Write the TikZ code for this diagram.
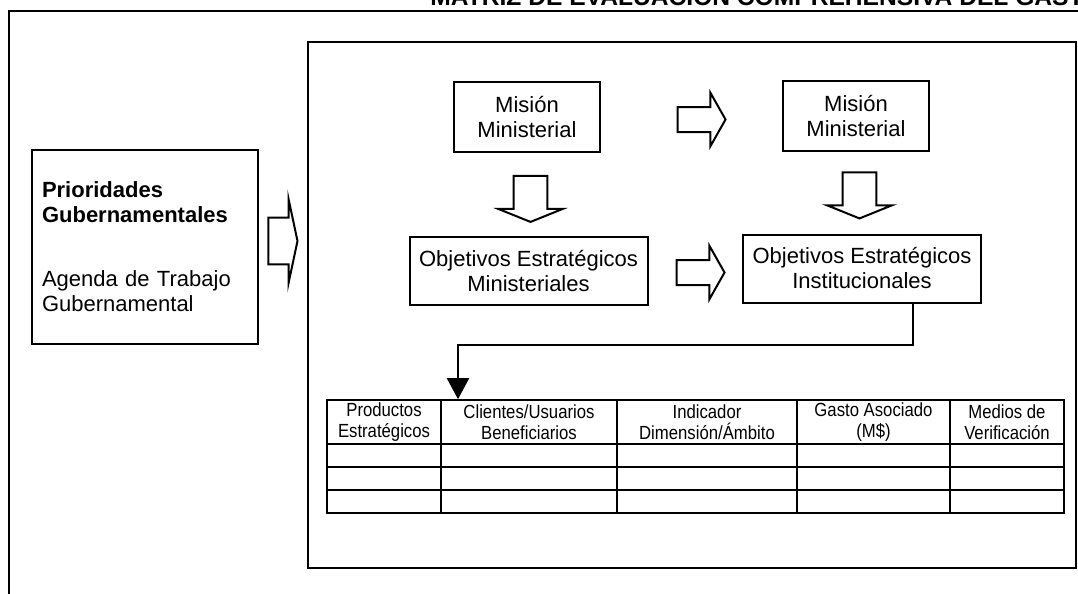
\documentclass[tikz,border=0pt]{standalone}
\usepackage{fontspec}
\setmainfont{Liberation Sans}
\newfontfamily\narrowfont[FakeStretch=0.88]{Liberation Sans}
\usetikzlibrary{positioning,shapes.arrows,arrows.meta}

\begin{document}
\begin{tikzpicture}[x=0.5pt, y=-0.5pt, every node/.style={font=\fontsize{11}{12.5}\selectfont}]
  \tikzset{
    caja/.style={draw, rectangle, line width=1pt, minimum width=73pt, minimum height=35pt, align=center, inner sep=2pt},
    objetivo/.style={caja, minimum width=119pt, minimum height=34pt},
    flecha/.style={draw, single arrow, line width=1pt, fill=white},
    fder/.style={flecha, inner xsep=0pt, inner ysep=5.75pt, minimum height=24pt, minimum width=26.5pt, single arrow tip angle=121},
    fbajo/.style={flecha, shape border rotate=270, inner sep=7.25pt, minimum height=23pt, minimum width=32.5pt, single arrow tip angle=136},
    celda/.style={font=\narrowfont\fontsize{9.5}{10.5}\selectfont, align=center, inner sep=0pt},
    linea/.style={line width=0.8pt}
  }
  \useasboundingbox (0,0) rectangle (1078,594);
  \clip (0,0) rectangle (1078,594);

  % titulo y marco exterior
  \node[anchor=base west, inner sep=0pt, font=\bfseries\fontsize{12.3}{14}\selectfont] (titulo) at (430,5) {MATRIZ DE EVALUACIÓN COMPREHENSIVA DEL GASTO};
  \draw[line width=0.6pt] (9,594) -- (9,11) -- (1078,11);

  \node[draw, line width=1pt, minimum width=384pt, minimum height=263pt] (panel) at (692,305) {};

  \node[caja, text width=103pt, inner sep=5pt, minimum height=97pt, align=left] (prioridades) at (145,247) {\textbf{Prioridades}\\\textbf{Gubernamentales}\\[19.5pt]Agenda de Trabajo\\Gubernamental};
  \node[flecha, inner xsep=0pt, inner ysep=8.5pt, minimum height=14.5pt, minimum width=42pt, single arrow tip angle=156] (fprio) at (280.5,241) {};

  \node[caja] (mision1) at (527,117) {Misión\\Ministerial};
  \node[caja] (mision2) at (856,116) {Misión\\Ministerial};
  \node[objetivo] (objmin) at (528.5,271) {Objetivos Estratégicos\\Ministeriales};
  \node[objetivo] (objinst) at (862,268.5) {Objetivos Estratégicos\\Institucionales};

  \node[fder] (fmision) at (698,119.5) {};
  \node[fder] (fobj) at (697,272.5) {};
  \node[fbajo] (fbajo1) at (530.5,195.5) {};
  \node[fbajo] (fbajo2) at (859.5,192) {};

  % tabla
  \node[draw, linea, minimum width=368.5pt, minimum height=56.5pt, inner sep=0pt] (tabla) at (695.5,456.5) {};
  \foreach \y in {444,467,490}
    \draw[linea] (327,\y) -- (1064,\y);
  \foreach \x in {441,617,797,950}
    \draw[linea] (\x,400) -- (\x,513);
  \node[celda] (hprod) at (384,422) {Productos\\Estratégicos};
  \node[celda] (hcli) at (529,422) {Clientes/Usuarios\\Beneficiarios};
  \node[celda] (hind) at (707,422) {Indicador\\Dimensión/Ámbito};
  \node[celda] (hgasto) at (873.5,422) {Gasto Asociado\\(M\$)};
  \node[celda] (hmedios) at (1007,422) {Medios de\\Verificación};

  \coordinate (codo) at (458,345);
  \draw[line width=1pt, -{Triangle[width=11pt,length=10.5pt]}] ([xshift=25.5pt]objinst.south) |- (codo) -- (codo |- tabla.north);
\end{tikzpicture}
\end{document}
